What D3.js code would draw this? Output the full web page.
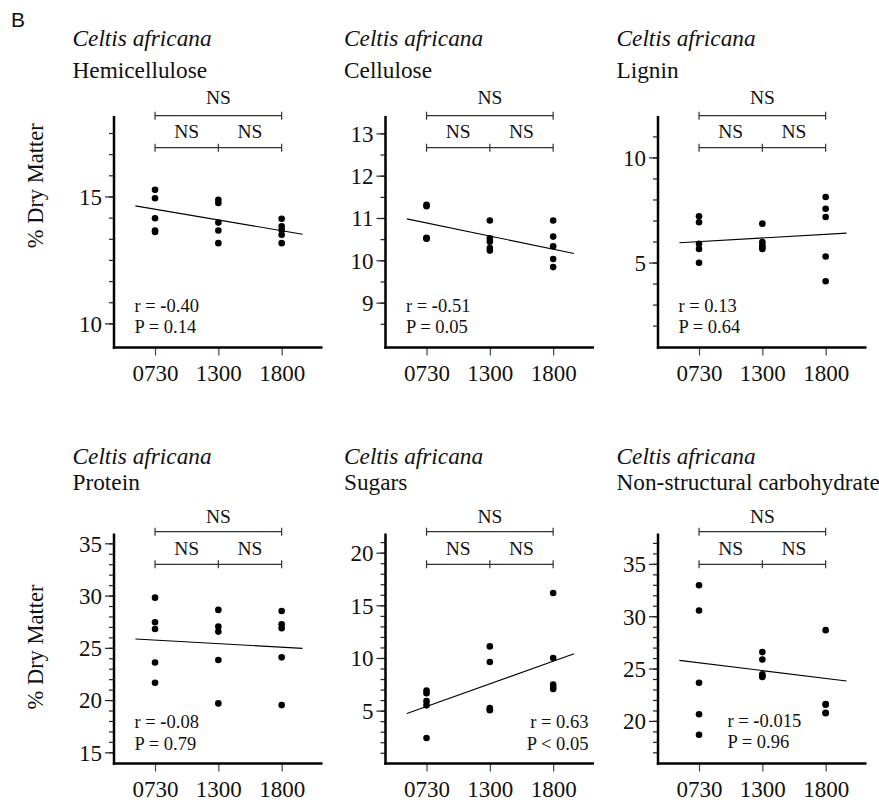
<!DOCTYPE html>
<html>
<head>
<meta charset="utf-8">
<script src="https://cdn.jsdelivr.net/npm/d3@7"></script>
<style>
  html, body { margin: 0; padding: 0; background: #fff; }
  svg { display: block; }
  text { font-family: "Liberation Serif", "Times New Roman", serif; fill: #111; }
</style>
</head>
<body>
<svg id="chart" width="879" height="805"></svg>
<script>
// ---------------- DATA ----------------
const categories = ["0730", "1300", "1800"];
const species = "Celtis africana";
const panelTitles = ["Hemicellulose", "Cellulose", "Lignin", "Protein", "Sugars", "Non-structural carbohydrate"];

const hemicellulose = [[15.26, 14.93, 14.14, 13.66, 13.60], [14.87, 14.74, 13.97, 13.66, 13.16], [14.12, 13.82, 13.68, 13.49, 13.16]];
const cellulose     = [[11.31, 11.28, 10.53, 10.52, 10.51], [10.94, 10.52, 10.44, 10.29, 10.23], [10.94, 10.56, 10.33, 10.03, 9.84]];
const lignin        = [[7.20, 6.92, 5.89, 5.65, 4.99], [6.85, 5.97, 5.81, 5.73, 5.65], [8.12, 7.56, 7.17, 5.29, 4.11]];
const protein       = [[29.80, 27.44, 26.80, 23.60, 21.66], [28.63, 27.04, 26.55, 23.83, 19.68], [28.53, 27.25, 26.87, 24.09, 19.52]];
const sugars        = [[6.90, 6.65, 5.90, 5.50, 2.40], [11.10, 9.62, 5.25, 5.10, 5.03], [16.17, 10.00, 7.47, 7.25, 7.06]];
const nsc           = [[32.95, 30.54, 23.65, 20.63, 18.67], [26.57, 25.87, 24.44, 24.30, 24.20], [28.67, 21.62, 21.55, 20.78, 20.73]];
const panelValues = [hemicellulose, cellulose, lignin, protein, sugars, nsc];

// regression line values at its two ends (index positions lineExtent)
const lineStart = [14.63, 10.98, 5.94, 25.85, 4.72, 25.78];
const lineEnd   = [13.51, 10.16, 6.40, 24.95, 10.41, 23.81];
const lineExtent = [-0.31, 2.33];

const rLabels = ["r = -0.40", "r = -0.51", "r = 0.13", "r = -0.08", "r = 0.63", "r = -0.015"];
const pLabels = ["P = 0.14", "P = 0.05", "P = 0.64", "P = 0.79", "P < 0.05", "P = 0.96"];
const sigLabel = "NS";

const yDomains = [[9.05, 18.17], [7.94, 13.41], [0.96, 11.97], [13.93, 35.94], [-0.02, 21.82], [15.93, 37.9]];
const yMajorTicks = [[10, 15], [9, 10, 11, 12, 13], [5, 10], [15, 20, 25, 30, 35], [5, 10, 15, 20], [20, 25, 30, 35]];
const yMinorTicks = [
  d3.range(0, 10).map(k => 10 + k * 5 / 6),
  d3.range(8.5, 13.01, 0.5),
  d3.range(2, 12, 1),
  d3.range(15, 36, 1),
  d3.range(1, 22, 1),
  d3.range(17, 38, 1)
];
const yLabel = "% Dry Matter";

// ---------------- LAYOUT ----------------
const colAxisX = [114, 385.5, 658];
const plotW = 208.5;
const rowY = [[116, 347.5], [533.5, 763.5]];
const titleBase = [[45.5, 77.5], [464, 490]];
const bracketY = [[115.7, 147.7], [531.7, 564.3]];
const nsBase = [[104.3, 138], [523.3, 555]];
const statPos = [
  {dx: 20.5, anchor: "start", y: [311.7, 333.3]},
  {dx: 20.5, anchor: "start", y: [311.7, 333.3]},
  {dx: 20.5, anchor: "start", y: [311.7, 333.3]},
  {dx: 20.5, anchor: "start", y: [728.3, 750]},
  {dx: 203, anchor: "end", y: [728.3, 750]},
  {dx: 69.5, anchor: "start", y: [726.7, 748]}
];

const svg = d3.select("#chart");
const serif = '"Liberation Serif", "Times New Roman", serif';

svg.append("text")
  .attr("x", 11).attr("y", 27)
  .style("font-family", '"Liberation Sans", Arial, sans-serif')
  .style("font-size", "21px")
  .text("B");

function statText(sel, str) {
  // render the minus sign slightly heavier, like the original
  const parts = str.split("-");
  parts.forEach((p, j) => {
    if (j > 0) sel.append("tspan").style("font-weight", "bold").text("-");
    sel.append("tspan").text(p);
  });
}

panelValues.forEach((vals, i) => {
  const col = i % 3, row = Math.floor(i / 3);
  const ax = colAxisX[col];
  const [yTop, yBot] = rowY[row];

  const x = d3.scaleLinear().domain([-0.648, 2.645]).range([ax, ax + plotW]);
  const y = d3.scaleLinear().domain(yDomains[i]).range([yBot, yTop]);

  const g = svg.append("g");

  // titles
  g.append("text").attr("x", ax - 41.5).attr("y", titleBase[row][0])
    .style("font-size", "23.3px").style("font-style", "italic").text(species);
  g.append("text").attr("x", ax - 41.5).attr("y", titleBase[row][1])
    .style("font-size", "23.3px").text(panelTitles[i]);

  // y label (first column)
  if (col === 0) {
    g.append("text")
      .attr("transform", `translate(43,${(yTop + yBot) / 2 + (row === 0 ? -46 : -1.5)}) rotate(-90)`)
      .attr("text-anchor", "middle")
      .style("font-size", "22.5px")
      .text(yLabel);
  }

  // minor ticks
  const minor = g.append("g").attr("transform", `translate(${ax},0)`)
    .call(d3.axisLeft(y).tickValues(yMinorTicks[i].filter(v => v > yDomains[i][0] + 0.05 && v < yDomains[i][1])).tickSize(5).tickFormat(""));
  minor.select(".domain").remove();
  minor.selectAll("line").attr("stroke", "#222").attr("stroke-width", 1.2);

  // major ticks
  const major = g.append("g").attr("transform", `translate(${ax},0)`)
    .call(d3.axisLeft(y).tickValues(yMajorTicks[i]).tickSize(9).tickPadding(3).tickFormat(d3.format("d")));
  major.select(".domain").remove();
  major.selectAll("line").attr("stroke", "#222").attr("stroke-width", 1.2);
  major.selectAll("text").attr("dy", "0.34em")
    .style("font-family", serif).style("font-size", "23px").attr("fill", "#111");

  // x axis
  const xa = g.append("g").attr("transform", `translate(0,${yBot})`)
    .call(d3.axisBottom(x).tickValues([0, 1, 2]).tickSize(8).tickPadding(10).tickFormat(d => categories[d]));
  xa.select(".domain").remove();
  xa.selectAll("line").attr("stroke", "#444").attr("stroke-width", 1.2);
  xa.selectAll("text").attr("y", 33).attr("dy", 0)
    .style("font-family", serif).style("font-size", "23px").attr("fill", "#111");

  // axis lines
  g.append("line").attr("x1", ax).attr("x2", ax).attr("y1", yTop).attr("y2", yBot + 1.2)
    .attr("stroke", "#000").attr("stroke-width", 2.5);
  g.append("line").attr("x1", ax - 1.2).attr("x2", ax + plotW).attr("y1", yBot).attr("y2", yBot)
    .attr("stroke", "#000").attr("stroke-width", 2.5);

  // brackets
  const [b1, b2] = bracketY[row];
  const br = g.append("g").attr("stroke", "#333").attr("stroke-width", 1.2);
  br.append("line").attr("x1", x(0)).attr("x2", x(2)).attr("y1", b1).attr("y2", b1);
  [0, 2].forEach(k => br.append("line").attr("x1", x(k)).attr("x2", x(k)).attr("y1", b1 - 4).attr("y2", b1 + 4));
  br.append("line").attr("x1", x(0)).attr("x2", x(2)).attr("y1", b2).attr("y2", b2);
  [0, 1, 2].forEach(k => br.append("line").attr("x1", x(k)).attr("x2", x(k)).attr("y1", b2 - 4).attr("y2", b2 + 4));
  g.append("text").attr("x", x(1)).attr("y", nsBase[row][0]).attr("text-anchor", "middle")
    .style("font-size", "19.5px").text(sigLabel);
  g.append("text").attr("x", x(0.5)).attr("y", nsBase[row][1]).attr("text-anchor", "middle")
    .style("font-size", "19.5px").text(sigLabel);
  g.append("text").attr("x", x(1.5)).attr("y", nsBase[row][1]).attr("text-anchor", "middle")
    .style("font-size", "19.5px").text(sigLabel);

  // regression line
  g.append("line")
    .attr("x1", x(lineExtent[0])).attr("y1", y(lineStart[i]))
    .attr("x2", x(lineExtent[1])).attr("y2", y(lineEnd[i]))
    .attr("stroke", "#000").attr("stroke-width", 1.1);

  // points
  vals.forEach((arr, k) => {
    g.selectAll(null).data(arr).enter().append("circle")
      .attr("cx", x(k)).attr("cy", d => y(d)).attr("r", 3.3).attr("fill", "#000");
  });

  // stats
  const sp = statPos[i];
  statText(g.append("text").attr("x", ax + sp.dx).attr("y", sp.y[0]).attr("text-anchor", sp.anchor)
    .style("font-size", "18.5px"), rLabels[i]);
  g.append("text").attr("x", ax + sp.dx).attr("y", sp.y[1]).attr("text-anchor", sp.anchor)
    .style("font-size", "18.5px").text(pLabels[i]);
});
</script>
</body>
</html>
